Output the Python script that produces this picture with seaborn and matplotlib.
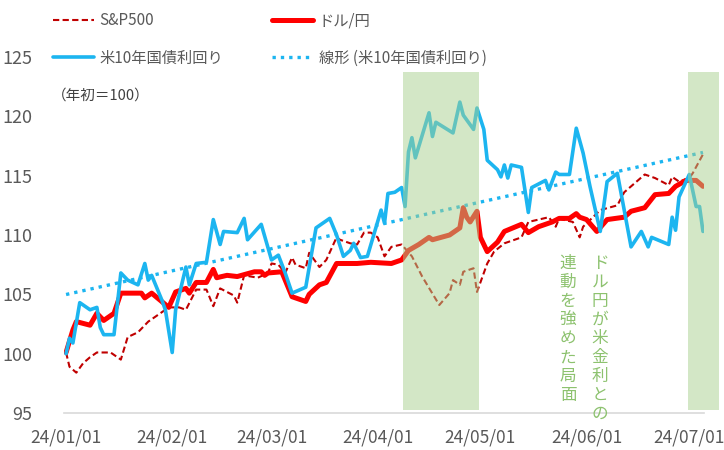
import numpy as np
import pandas as pd
import matplotlib
matplotlib.use('Agg')
import matplotlib.pyplot as plt
import matplotlib.dates as mdates
import seaborn as sns

sns.set_style('white')
plt.rcParams['font.family'] = ['Noto Sans CJK JP', 'DejaVu Sans']

# S&P500 (年初=100)
spx_dates = ['01-01', '01-02', '01-04', '01-06', '01-08', '01-10', '01-14', '01-17', '01-19', '01-22',
             '01-25', '01-28', '01-31', '02-03', '02-05', '02-08', '02-11', '02-13', '02-15', '02-19',
             '02-20', '02-22', '02-26', '02-29', '03-01', '03-03', '03-05', '03-07', '03-08', '03-11',
             '03-12', '03-15', '03-17', '03-20', '03-21', '03-24', '03-26', '03-28', '03-30', '04-01',
             '04-03', '04-05', '04-08', '04-11', '04-14', '04-19', '04-22', '04-23', '04-25', '04-26',
             '04-29', '04-30', '05-03', '05-05', '05-08', '05-13', '05-15', '05-18', '05-21', '05-23',
             '05-24', '05-25', '05-28', '05-30', '05-31', '06-05', '06-10', '06-12', '06-18', '06-21',
             '06-25', '06-26', '06-28', '07-01', '07-02', '07-05']
spx_values = [100.1, 98.9, 98.4, 99.2, 99.7, 100.1, 100.1, 99.5, 101.4, 101.8,
              102.7, 103.3, 103.9, 103.9, 103.7, 105.4, 105.4, 104.0, 105.5, 104.9,
              104.3, 106.6, 106.4, 106.8, 107.6, 107.5, 106.8, 108.1, 107.5, 107.2,
              108.5, 107.3, 107.9, 109.8, 109.6, 109.3, 109.2, 110.2, 110.2, 109.8,
              108.2, 109.0, 109.2, 108.2, 106.5, 104.1, 105.1, 106.2, 105.8, 106.9,
              107.2, 105.2, 107.6, 108.6, 109.3, 109.8, 111.1, 111.3, 111.5, 110.7,
              111.4, 111.3, 111.1, 109.8, 110.7, 112.1, 112.5, 113.6, 115.1, 114.8,
              114.2, 114.9, 114.5, 114.8, 115.2, 116.8]

# ドル/円
jpy_dates = ['01-01', '01-03', '01-04', '01-08', '01-10', '01-12', '01-15', '01-17', '01-23', '01-24',
             '01-26', '01-31', '02-02', '02-05', '02-06', '02-08', '02-11', '02-13', '02-14', '02-17',
             '02-20', '02-25', '02-27', '02-28', '02-29', '03-04', '03-07', '03-11', '03-12', '03-15',
             '03-17', '03-20', '03-26', '03-30', '04-05', '04-08', '04-10', '04-13', '04-16', '04-17',
             '04-22', '04-25', '04-26', '04-27', '04-28', '04-30', '05-01', '05-03', '05-06', '05-08',
             '05-13', '05-15', '05-18', '05-22', '05-24', '05-27', '05-29', '05-30', '06-01', '06-04',
             '06-07', '06-12', '06-14', '06-18', '06-21', '06-25', '06-27', '06-30', '07-03', '07-05']
jpy_values = [100.1, 102.0, 102.7, 102.4, 103.4, 102.8, 103.4, 105.1, 105.1, 104.7,
              105.1, 103.9, 105.2, 105.5, 105.1, 106.0, 106.0, 107.1, 106.4, 106.6,
              106.5, 106.9, 106.9, 106.6, 106.8, 106.9, 104.8, 104.4, 105.0, 105.8,
              106.0, 107.6, 107.6, 107.7, 107.6, 107.9, 108.7, 109.2, 109.8, 109.6,
              110.0, 110.6, 112.3, 111.5, 111.1, 112.0, 109.8, 108.6, 109.4, 110.3,
              110.9, 110.2, 110.7, 111.1, 111.4, 111.4, 111.8, 111.5, 111.3, 110.3,
              111.3, 111.5, 112.0, 112.3, 113.4, 113.5, 114.1, 114.6, 114.6, 114.1]

# 米10年国債利回り
ust_dates = ['01-01', '01-02', '01-03', '01-05', '01-08', '01-10', '01-11', '01-12', '01-15', '01-17',
             '01-19', '01-22', '01-24', '01-25', '01-26', '01-29', '01-30', '02-01', '02-02', '02-05',
             '02-06', '02-08', '02-11', '02-13', '02-15', '02-16', '02-20', '02-22', '02-23', '02-27',
             '02-28', '03-01', '03-03', '03-05', '03-07', '03-11', '03-14', '03-18', '03-20', '03-22',
             '03-24', '03-25', '03-27', '03-29', '04-02', '04-03', '04-04', '04-06', '04-08', '04-09',
             '04-10', '04-11', '04-12', '04-16', '04-17', '04-18', '04-23', '04-25', '04-26', '04-29',
             '04-30', '05-02', '05-03', '05-06', '05-07', '05-08', '05-09', '05-10', '05-13', '05-15',
             '05-16', '05-20', '05-21', '05-23', '05-24', '05-27', '05-29', '05-31', '06-02', '06-05',
             '06-07', '06-10', '06-14', '06-17', '06-19', '06-20', '06-25', '06-26', '06-27', '06-28',
             '07-01', '07-03', '07-04', '07-05']
ust_values = [100.0, 101.3, 100.9, 104.3, 103.7, 103.9, 102.2, 101.6, 101.6, 106.8,
              106.2, 105.8, 107.6, 106.2, 106.6, 104.5, 103.7, 100.1, 103.7, 107.3,
              105.8, 107.6, 107.7, 111.3, 109.2, 110.3, 110.2, 111.4, 109.6, 110.9,
              109.9, 107.9, 108.3, 106.8, 105.1, 105.6, 110.6, 111.4, 110.0, 108.2,
              108.7, 109.3, 108.1, 108.2, 112.1, 111.0, 113.5, 113.6, 114.0, 112.4,
              117.0, 118.2, 116.5, 120.3, 118.3, 119.5, 118.6, 121.2, 120.1, 118.9,
              120.7, 118.9, 116.3, 115.5, 114.9, 115.9, 114.8, 115.9, 115.7, 111.9,
              114.0, 114.6, 113.8, 115.3, 115.1, 115.1, 119.0, 116.9, 114.1, 110.3,
              114.5, 115.2, 109.0, 110.3, 109.0, 109.8, 109.2, 111.5, 110.4, 113.2,
              115.1, 112.4, 112.4, 110.3]

# 米金利と連動を強めた局面
phase_1 = ('2024-04-08 12:00', '2024-04-30 12:00')
phase_2 = ('2024-06-30 12:00', '2024-07-09 14:00')

month_ticks = ['2024-01-01', '2024-02-01', '2024-03-01', '2024-04-01',
               '2024-05-01', '2024-06-01', '2024-07-01']


def to_frame(dates, values):
    return pd.DataFrame({'date': pd.to_datetime(['2024-' + d for d in dates]), 'value': values})


spx = to_frame(spx_dates, spx_values)
jpy = to_frame(jpy_dates, jpy_values)
ust = to_frame(ust_dates, ust_values)

# 線形近似 (米10年国債利回り)
xnum = mdates.date2num(ust['date'])
slope, intercept = np.polyfit(xnum, ust['value'], 1)
trend = pd.DataFrame({'date': ust['date'].iloc[[0, -1]].values,
                      'value': slope * xnum[[0, -1]] + intercept})

fig, ax = plt.subplots(figsize=(7.24, 4.5), dpi=100)
fig.subplots_adjust(left=64 / 724, right=704 / 724, bottom=37 / 450, top=393 / 450)

sns.lineplot(data=spx, x='date', y='value', ax=ax, color='#C00000', lw=1.5,
             linestyle=(0, (3, 1.6)), label='S&P500', zorder=2)
sns.lineplot(data=jpy, x='date', y='value', ax=ax, color='#FF0000', lw=3.6,
             label='ドル/円', zorder=3)
sns.lineplot(data=ust, x='date', y='value', ax=ax, color='#1CB5F0', lw=2.6,
             label='米10年国債利回り', zorder=4)
sns.lineplot(data=trend, x='date', y='value', ax=ax, color='#1CB5F0', lw=2.4,
             linestyle=(0, (1, 1.5)), label='線形 (米10年国債利回り)', zorder=5)

shade_lo = (95.25 - 95) / 30
shade_hi = (123.7 - 95) / 30
for start, end in [phase_1, phase_2]:
    ax.axvspan(pd.Timestamp(start), pd.Timestamp(end), ymin=shade_lo, ymax=shade_hi,
               color='#A9D18E', alpha=0.5, lw=0, zorder=6, clip_on=False)

ax.set_ylim(95, 125)
ax.set_yticks(range(95, 126, 5))
left = mdates.date2num(pd.Timestamp('2024-01-01')) - 0.6
right = mdates.date2num(pd.Timestamp('2024-07-05')) + 0.3
ax.set_xlim(left, right)
ax.set_xticks(pd.to_datetime(month_ticks))
ax.xaxis.set_major_formatter(mdates.DateFormatter('%y/%m/%d'))
ax.set_xlabel('')
ax.set_ylabel('')

for side in ['left', 'right', 'top']:
    ax.spines[side].set_visible(False)
ax.spines['bottom'].set_color('#D9D9D9')
ax.spines['bottom'].set_linewidth(1.2)
ax.tick_params(axis='x', length=0, pad=11, labelsize=12.5, labelcolor='#595959')
ax.tick_params(axis='y', length=0, pad=23, labelsize=13, labelcolor='#595959')

handles, labels = ax.get_legend_handles_labels()
ax.get_legend().remove()
order = [0, 2, 1, 3]
fig.legend([handles[i] for i in order], [labels[i] for i in order],
           loc='upper left', bbox_to_anchor=(53 / 724, 1 - 12 / 450), ncol=2,
           frameon=False, fontsize=11, labelcolor='#595959', handlelength=2.7,
           handletextpad=0.35, columnspacing=3.2, labelspacing=1.35,
           borderpad=0, borderaxespad=0)

fig.text(52 / 724, 1 - 96 / 450, '（年初＝100）', fontsize=10.5, color='#404040', va='center')

green = '#8DC26F'
fig.text(600 / 724, 1 - 255 / 450, '\n'.join('ドル円が米金利との'), fontsize=12,
         color=green, ha='center', va='top', linespacing=1.14)
fig.text(568 / 724, 1 - 255 / 450, '\n'.join('連動を強めた局面'), fontsize=12,
         color=green, ha='center', va='top', linespacing=1.14)

fig.savefig('out.png', dpi=100)
